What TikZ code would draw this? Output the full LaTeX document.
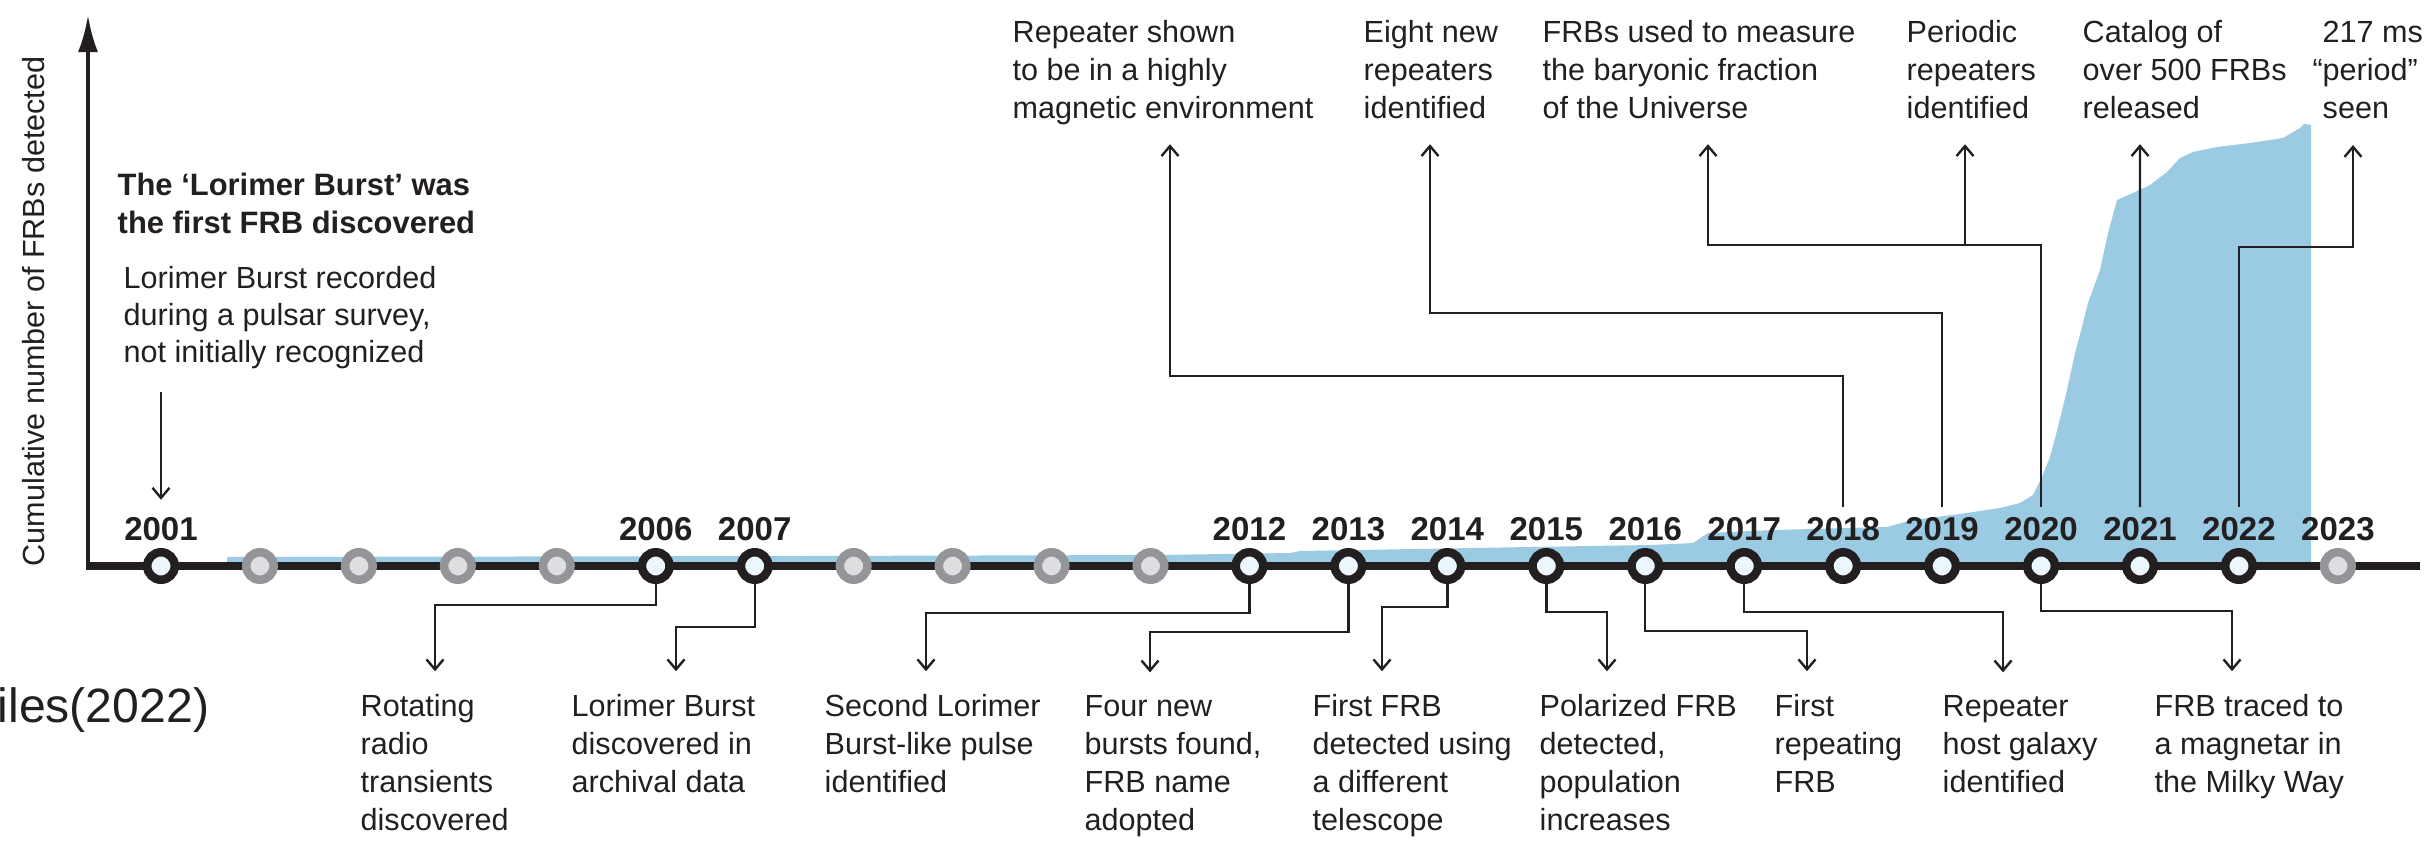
\documentclass[tikz,border=0pt]{standalone}
\usepackage{fontspec}
\setmainfont{Liberation Sans}
\usetikzlibrary{arrows.meta}
\definecolor{Tinta}{RGB}{35,31,32}
\definecolor{AreaFRB}{RGB}{154,203,227}
\definecolor{AnilloGris}{RGB}{147,149,152}
\definecolor{RellenoGris}{RGB}{221,222,223}
\definecolor{RellenoClaro}{RGB}{236,246,253}
\tikzset{
  anio/.style={circle, draw=Tinta, fill=RellenoClaro, line width=0.85mm, minimum size=2.75mm, inner sep=0pt},
  aniogris/.style={anio, draw=AnilloGris, fill=RellenoGris},
  etiq/.style={anchor=base, inner xsep=0pt, inner ysep=0.9mm, text=Tinta, font=\bfseries\fontsize{9.4}{11}\selectfont},
  texto/.style={anchor=base west, align=left, inner sep=0pt, text=Tinta, font=\fontsize{8.7}{10.8}\selectfont},
  flecha/.style={draw=Tinta, line width=0.24mm, -{Straight Barb[length=1mm,width=1.7mm]}},
}
\begin{document}
\begin{tikzpicture}[x=0.1mm, y=-0.1mm]
\useasboundingbox (0,0) rectangle (2428,842);

% Area acumulada
\fill[AreaFRB] (227,566) -- (227,557) -- (800,556) -- (1157,555) -- (1290,553) -- (1300,551)
  -- (1530,547) -- (1650,545) -- (1693,543) -- (1708,533) -- (1774,530) -- (1887,527)
  -- (1912,520) -- (1960,514) -- (2000,508) -- (2020,503) -- (2033,495) -- (2042,477)
  -- (2050,457) -- (2058,427) -- (2067,390) -- (2075,353) -- (2082,327) -- (2088,303)
  -- (2100,270) -- (2108,233) -- (2117,200) -- (2133,193) -- (2150,185) -- (2167,172)
  -- (2180,158) -- (2193,152) -- (2217,147) -- (2250,143) -- (2283,138) -- (2300,128)
  -- (2304,124) -- (2311,125) -- (2311,566) -- cycle;

% Ejes
\draw[Tinta, line width=0.4mm, -{Latex[length=3.7mm,width=2mm]}] (88,568) -- (88,15);
\draw[Tinta, line width=0.8mm] (86,566) -- (2420,566);
\node[texto, rotate=90] (ejey) at (44,567) {Cumulative number of FRBs detected};
\node[texto, font=\fontsize{13.7}{16}\selectfont] (fuente) at (-3,722) {iles(2022)};

% Años
\foreach \yr in {2002,2003,2004,2005,2008,2009,2010,2011,2023}
  \node[aniogris] (y\yr) at ({161+98.95*(\yr-2001)},566) {};
\foreach \yr in {2001,2006,2007,2012,2013,...,2022}
  \node[anio] (y\yr) at ({161+98.95*(\yr-2001)},566) {};
\foreach \yr in {2001,2006,2007,2012,2013,...,2023}
  \node[etiq] (ly\yr) at ({161+98.95*(\yr-2001)},540) {\yr};

% Textos de arriba (la base es la ultima linea)
\node[texto, font=\bfseries\fontsize{8.8}{10.8}\selectfont] (titulo) at (117,233) {The ‘Lorimer Burst’ was\\the first FRB discovered};
\node[texto, font=\fontsize{8.7}{10.5}\selectfont] (t2001) at (123,362) {Lorimer Burst recorded\\during a pulsar survey,\\not initially recognized};
\node[texto] (t2018) at (1012,118) {Repeater shown\\to be in a highly\\magnetic environment};
\node[texto] (t2019) at (1363,118) {Eight new\\repeaters\\identified};
\node[texto] (t2020b) at (1542,118) {FRBs used to measure\\the baryonic fraction\\of the Universe};
\node[texto] (t2020a) at (1906,118) {Periodic\\repeaters\\identified};
\node[texto] (t2021) at (2082,118) {Catalog of\\over 500 FRBs\\released};
\node[texto] (t2022) at (2322,118) {217 ms\\\llap{“}period”\\seen};

% Textos de abajo
\node[texto] (t2006) at (360,830) {Rotating\\radio\\transients\\discovered};
\node[texto] (t2007) at (571,792) {Lorimer Burst\\discovered in\\archival data};
\node[texto] (t2012) at (824,792) {Second Lorimer\\Burst-like pulse\\identified};
\node[texto] (t2013) at (1084,830) {Four new\\bursts found,\\FRB name\\adopted};
\node[texto] (t2014) at (1312,830) {First FRB\\detected using\\a different\\telescope};
\node[texto] (t2015) at (1539,830) {Polarized FRB\\detected,\\population\\increases};
\node[texto] (t2016) at (1774,792) {First\\repeating\\FRB};
\node[texto] (t2017) at (1942,792) {Repeater\\host galaxy\\identified};
\node[texto] (t2020) at (2154,792) {FRB traced to\\a magnetar in\\the Milky Way};

% Flechas hacia abajo
\draw[flecha] (t2001.base -| ly2001.north) ++(0,30) -- ([yshift=0.75mm]ly2001.north);
\foreach \yr/\codo/\dx in {2006/605/75, 2007/627/105, 2012/613/102, 2013/632/66, 2014/607/70,
    2015/612/68, 2016/631/33, 2017/612/61}
  \draw[flecha] (y\yr) -- (y\yr |- 0,\codo) -| ([shift={(\dx,-22)}]t\yr.north west);
\draw[flecha] (y2020) -- (y2020 |- 0,611) -| ([shift={(78,-22)}]t2020.north west);

% Flechas hacia arriba
\draw[flecha] (ly2018.north) -- (ly2018.north |- 0,376) -| ([shift={(158,125)}]t2018.north west);
\draw[flecha] (ly2019.north) -- (ly2019.north |- 0,313) -| ([shift={(67,125)}]t2019.north west);
\draw[flecha] (ly2020.north) -- (ly2020.north |- 0,245) -| ([shift={(166,125)}]t2020b.north west);
\coordinate (j2020) at (1965,245);
\draw[flecha] (j2020) -- ([shift={(59,125)}]t2020a.north west);
\draw[flecha] (ly2021.north) -- ([shift={(58,125)}]t2021.north west);
\draw[flecha] (ly2022.north) -- (ly2022.north |- 0,247) -| ([shift={(31,125)}]t2022.north west);

\end{tikzpicture}
\end{document}
